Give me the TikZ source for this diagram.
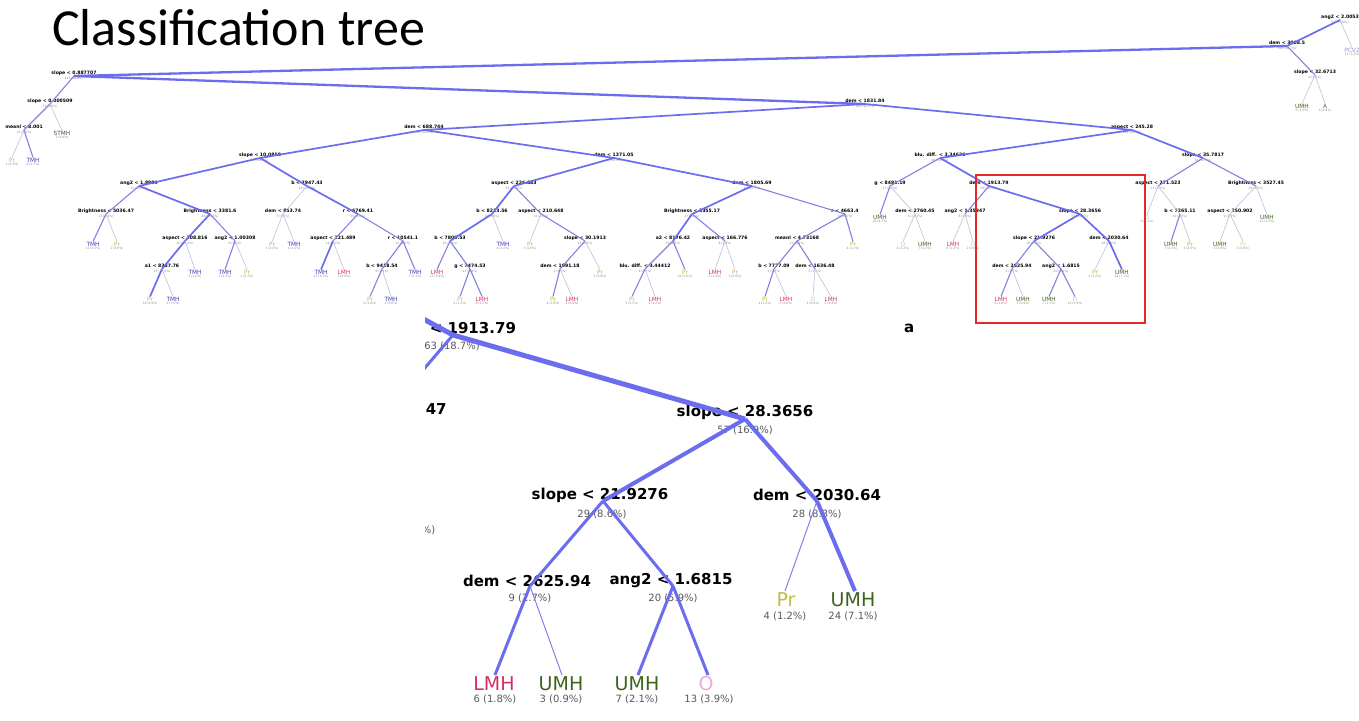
\documentclass[tikz,border=0pt]{standalone}
\usepackage{fontspec}
\newfontfamily\titlefont{Carlito}
\newfontfamily\tf{DejaVu Sans}
\definecolor{thk}{RGB}{108,108,238}
\definecolor{mid}{RGB}{132,130,224}
\definecolor{thn}{RGB}{192,190,220}
\definecolor{cTMH}{RGB}{58,58,185}
\definecolor{cLMH}{RGB}{215,45,100}
\definecolor{cUMH}{RGB}{62,100,28}
\definecolor{cPr}{RGB}{192,190,70}
\definecolor{cO}{RGB}{236,172,216}
\definecolor{cCy}{RGB}{140,210,220}
\definecolor{cPC}{RGB}{165,135,215}
\definecolor{cA}{RGB}{80,105,70}
\definecolor{redbox}{RGB}{232,40,40}
\tikzset{
 slab/.style={font=\tf\bfseries\fontsize{4.6}{5}\selectfont, inner sep=0pt},
 scnt/.style={font=\tf\fontsize{3}{3.5}\selectfont, text=black!45, inner sep=0pt},
 sleaf/.style={font=\tf\fontsize{5.8}{6}\selectfont, inner sep=0pt},
 eL/.style={draw=thk, line width=2.3pt},
 e1/.style={draw=thk, line width=1.7pt},
 e2/.style={draw=mid, line width=1.1pt},
 e3/.style={draw=thn, line width=0.6pt},
 blab/.style={font=\tf\bfseries\fontsize{15}{16}\selectfont, inner sep=0pt},
 bcnt/.style={font=\tf\fontsize{10}{11}\selectfont, text=black!65, inner sep=0pt},
 bleaf/.style={font=\tf\fontsize{19}{20}\selectfont, inner sep=0pt},
 be1/.style={draw=thk, line width=5pt},
 be2/.style={draw=thk, line width=4pt},
 be3/.style={draw=thk, line width=3pt},
 bthin/.style={draw=mid, line width=1pt},
}
\newcommand\SN[5]{\node[slab] (#1-t) at (#2,#3) {#4};
  \node[scnt] (#1-c) at (#2,#3+5.5) {#5};
  \coordinate (#1) at (#2,#3+3);}
\newcommand\SL[6]{\node[sleaf,text=#5] (#1-t) at (#2,#3) {#4};
  \node[scnt] (#1-c) at (#2,#3+5) {#6};
  \coordinate (#1) at (#2,#3-2.5);}
\begin{document}
\begin{tikzpicture}[x=1pt,y=-1pt]
\useasboundingbox (0,0) rectangle (1359,720);
\fill[white] (0,0) rectangle (1359,720);
\node[font=\titlefont\fontsize{52}{56}\selectfont, anchor=base west, inner sep=0pt] (title) at (52,45) {Classification tree};

% ---------- small tree ----------
\SN{R}{1340}{17}{ang2 < 2.0053}{337 (100\%)}
\SL{PC}{1352}{50}{PCV2}{cPC}{11 (3.3\%)}
\SN{D3}{1287}{43}{dem < 3068.5}{326 (96.7\%)}
\SN{S32}{1315}{72}{slope < 32.6713}{8 (2.4\%)}
\SL{S32a}{1302}{106}{UMH}{cUMH}{5 (1.5\%)}
\SL{S32b}{1325}{106}{A}{cA}{3 (0.9\%)}
\SN{S0887}{74}{73}{slope < 0.887707}{318 (94.4\%)}
\SN{S0005}{50}{101}{slope < 0.000509}{12 (3.6\%)}
\SN{M8}{24}{127}{meanl < 8.001}{10 (3.0\%)}
\SL{M8a}{12}{160}{Pr}{cPr}{1 (0.3\%)}
\SL{M8b}{33}{160}{TMH}{cTMH}{9 (2.7\%)}
\SL{ST}{62}{133}{STMH}{black!70}{2 (0.6\%)}
\SN{D1831}{865}{101}{dem < 1831.84}{306 (90.8\%)}
\SN{D688}{424}{127}{dem < 688.744}{182 (54.0\%)}
\SN{A245}{1132}{127}{aspect < 245.28}{124 (36.8\%)}
\SN{S10}{260}{155}{slope < 10.0858}{95 (28.2\%)}
\SN{D1371}{614}{155}{dem < 1371.05}{87 (25.8\%)}
\SN{A1889}{139}{183}{ang2 < 1.8889}{61 (18.1\%)}
\SN{B7947}{307}{183}{b < 7947.43}{34 (10.1\%)}
\SN{Br5036}{106}{211}{Brightness < 5036.47}{13 (3.9\%)}
\SL{Br5036a}{93}{244}{TMH}{cTMH}{11 (3.3\%)}
\SL{Br5036b}{117}{244}{Pr}{cPr}{2 (0.6\%)}
\SN{Br3381}{210}{211}{Brightness < 3381.6}{48 (14.2\%)}
\SN{As208}{185}{238}{aspect < 208.816}{40 (11.9\%)}
\SN{An1003}{235}{238}{ang2 < 1.00308}{8 (2.4\%)}
\SN{A1}{162}{266}{a1 < 8387.76}{35 (10.4\%)}
\SL{A1a}{150}{299}{Pr}{cPr}{30 (8.9\%)}
\SL{A1b}{173}{299}{TMH}{cTMH}{5 (1.5\%)}
\SL{As208b}{195}{272}{TMH}{cTMH}{5 (1.5\%)}
\SL{An1003a}{225}{272}{TMH}{cTMH}{7 (2.1\%)}
\SL{An1003b}{247}{272}{Pr}{cPr}{1 (0.3\%)}
\SN{D853}{283}{211}{dem < 853.74}{5 (1.5\%)}
\SL{D853a}{272}{244}{Pr}{cPr}{1 (0.3\%)}
\SL{D853b}{294}{244}{TMH}{cTMH}{4 (1.2\%)}
\SN{R6769}{358}{211}{r < 6769.41}{29 (8.6\%)}
\SN{As221}{333}{238}{aspect < 221.489}{14 (4.2\%)}
\SL{As221a}{321}{272}{TMH}{cTMH}{11 (3.3\%)}
\SL{As221b}{344}{272}{LMH}{cLMH}{3 (0.9\%)}
\SN{R10541}{403}{238}{r < 10541.1}{15 (4.5\%)}
\SN{B9418}{382}{266}{b < 9418.54}{8 (2.4\%)}
\SL{B9418a}{370}{299}{Pr}{cPr}{6 (1.8\%)}
\SL{B9418b}{391}{299}{TMH}{cTMH}{2 (0.6\%)}
\SL{R10541b}{415}{272}{TMH}{cTMH}{7 (2.1\%)}
\SN{As226}{514}{183}{aspect < 226.883}{45 (13.4\%)}
\SN{B8213}{492}{211}{b < 8213.56}{30 (8.9\%)}
\SN{B7800}{450}{238}{b < 7800.53}{26 (7.7\%)}
\SL{B7800a}{437}{272}{LMH}{cLMH}{13 (3.9\%)}
\SN{G7474}{470}{266}{g < 7474.53}{13 (3.9\%)}
\SL{G7474a}{460}{299}{Pr}{cPr}{4 (1.2\%)}
\SL{G7474b}{482}{299}{LMH}{cLMH}{9 (2.7\%)}
\SL{B8213b}{503}{244}{TMH}{cTMH}{4 (1.2\%)}
\SN{As210}{541}{211}{aspect < 210.648}{15 (4.5\%)}
\SL{As210a}{530}{244}{Pr}{cPr}{3 (0.9\%)}
\SN{S30}{585}{238}{slope < 30.1913}{12 (3.6\%)}
\SN{D1091}{560}{266}{dem < 1091.18}{9 (2.7\%)}
\SL{D1091a}{553}{299}{Pr}{cPr}{6 (1.8\%)}
\SL{D1091b}{572}{299}{LMH}{cLMH}{3 (0.9\%)}
\SL{S30b}{600}{272}{Pr}{cPr}{3 (0.9\%)}
\SN{D1805}{752}{183}{dem < 1805.69}{42 (12.5\%)}
\SN{Br3355}{692}{211}{Brightness < 3355.17}{27 (8.0\%)}
\SN{A2}{673}{238}{a2 < 8176.42}{19 (5.6\%)}
\SN{Blu344}{645}{266}{blu. diff. < 3.44412}{9 (2.7\%)}
\SL{Blu344a}{632}{299}{Pr}{cPr}{5 (1.5\%)}
\SL{Blu344b}{655}{299}{LMH}{cLMH}{4 (1.2\%)}
\SL{A2b}{685}{272}{Pr}{cPr}{10 (3.0\%)}
\SN{As166}{725}{238}{aspect < 166.776}{8 (2.4\%)}
\SL{As166a}{715}{272}{LMH}{cLMH}{5 (1.5\%)}
\SL{As166b}{735}{272}{Pr}{cPr}{3 (0.9\%)}
\SN{R4663}{845}{211}{r < 4663.4}{15 (4.5\%)}
\SN{M473}{797}{238}{meanl < 4.73168}{11 (3.3\%)}
\SN{B7777}{774}{266}{b < 7777.09}{6 (1.8\%)}
\SL{B7777a}{765}{299}{Pr}{cPr}{4 (1.2\%)}
\SL{B7777b}{786}{299}{LMH}{cLMH}{2 (0.6\%)}
\SN{D1636}{815}{266}{dem < 1636.48}{5 (1.5\%)}
\SL{D1636a}{813}{299}{O}{cO}{2 (0.6\%)}
\SL{D1636b}{831}{299}{LMH}{cLMH}{3 (0.9\%)}
\SL{R4663b}{853}{244}{Pr}{cPr}{4 (1.2\%)}
\SN{Blu346}{940}{155}{blu. diff. < 3.34626}{90 (26.7\%)}
\SN{G8481}{890}{183}{g < 8481.19}{27 (8.0\%)}
\SL{G8481a}{880}{217}{UMH}{cUMH}{16 (4.7\%)}
\SN{D2760}{915}{211}{dem < 2760.45}{11 (3.3\%)}
\SL{D2760a}{903}{244}{O}{cO}{4 (1.2\%)}
\SL{D2760b}{925}{244}{UMH}{cUMH}{7 (2.1\%)}
\SN{D1913}{989}{183}{dem < 1913.79}{63 (18.7\%)}
\SN{An135}{965}{211}{ang2 < 1.35947}{6 (1.8\%)}
\SL{An135a}{953}{244}{LMH}{cLMH}{4 (1.2\%)}
\SL{An135b}{973}{244}{O}{cO}{2 (0.6\%)}
\SN{S28}{1080}{211}{slope < 28.3656}{57 (16.9\%)}
\SN{S21}{1034}{238}{slope < 21.9276}{29 (8.6\%)}
\SN{D2625}{1012}{266}{dem < 2625.94}{9 (2.7\%)}
\SL{D2625a}{1001}{299}{LMH}{cLMH}{6 (1.8\%)}
\SL{D2625b}{1023}{299}{UMH}{cUMH}{3 (0.9\%)}
\SN{An16}{1061}{266}{ang2 < 1.6815}{20 (5.9\%)}
\SL{An16a}{1049}{299}{UMH}{cUMH}{7 (2.1\%)}
\SL{An16b}{1075}{299}{O}{cO}{13 (3.9\%)}
\SN{D2030}{1109}{238}{dem < 2030.64}{28 (8.3\%)}
\SL{D2030a}{1095}{272}{Pr}{cPr}{4 (1.2\%)}
\SL{D2030b}{1122}{272}{UMH}{cUMH}{24 (7.1\%)}
\SN{S35}{1203}{155}{slope < 35.7817}{34 (10.1\%)}
\SN{As271}{1158}{183}{aspect < 271.523}{14 (4.2\%)}
\SL{As271a}{1147}{217}{O}{cCy}{4 (1.2\%)}
\SN{B7265}{1180}{211}{b < 7265.11}{10 (3.0\%)}
\SL{B7265a}{1171}{244}{UMH}{cUMH}{7 (2.1\%)}
\SL{B7265b}{1190}{244}{Pr}{cPr}{3 (0.9\%)}
\SN{Br3527}{1256}{183}{Brightness < 3527.45}{20 (5.9\%)}
\SN{As250}{1230}{211}{aspect < 250.902}{9 (2.7\%)}
\SL{As250a}{1220}{244}{UMH}{cUMH}{6 (1.8\%)}
\SL{As250b}{1243}{244}{Pr}{cPr!60}{3 (0.9\%)}
\SL{Br3527b}{1267}{217}{UMH}{cUMH}{11 (3.3\%)}

\draw[e3] (R) -- (PC);
\draw[e1] (R) -- (D3);
\draw[eL] (D3) -- (S0887);
\draw[e2] (D3) -- (S32);
\draw[e3] (S32) -- (S32a); \draw[e3] (S32) -- (S32b);
\draw[eL] (S0887) -- (D1831);
\draw[e2] (S0887) -- (S0005);
\draw[e2] (S0005) -- (M8); \draw[e3] (S0005) -- (ST);
\draw[e3] (M8) -- (M8a); \draw[e2] (M8) -- (M8b);
\draw[e1] (D1831) -- (D688); \draw[e1] (D1831) -- (A245);
\draw[e1] (D688) -- (S10); \draw[e1] (D688) -- (D1371);
\draw[e1] (S10) -- (A1889); \draw[e1] (S10) -- (B7947);
\draw[e2] (A1889) -- (Br5036); \draw[e1] (A1889) -- (Br3381);
\draw[e2] (Br5036) -- (Br5036a); \draw[e3] (Br5036) -- (Br5036b);
\draw[e1] (Br3381) -- (As208); \draw[e2] (Br3381) -- (An1003);
\draw[e1] (As208) -- (A1); \draw[e3] (As208) -- (As208b);
\draw[e1] (A1) -- (A1a); \draw[e3] (A1) -- (A1b);
\draw[e2] (An1003) -- (An1003a); \draw[e3] (An1003) -- (An1003b);
\draw[e3] (B7947) -- (D853); \draw[e1] (B7947) -- (R6769);
\draw[e3] (D853) -- (D853a); \draw[e3] (D853) -- (D853b);
\draw[e2] (R6769) -- (As221); \draw[e2] (R6769) -- (R10541);
\draw[e1] (As221) -- (As221a); \draw[e3] (As221) -- (As221b);
\draw[e2] (R10541) -- (B9418); \draw[e2] (R10541) -- (R10541b);
\draw[e2] (B9418) -- (B9418a); \draw[e3] (B9418) -- (B9418b);
\draw[e1] (D1371) -- (As226); \draw[e1] (D1371) -- (D1805);
\draw[e1] (As226) -- (B8213); \draw[e2] (As226) -- (As210);
\draw[e1] (B8213) -- (B7800); \draw[e3] (B8213) -- (B8213b);
\draw[e2] (B7800) -- (B7800a); \draw[e2] (B7800) -- (G7474);
\draw[e2] (G7474) -- (G7474a); \draw[e2] (G7474) -- (G7474b);
\draw[e3] (As210) -- (As210a); \draw[e2] (As210) -- (S30);
\draw[e2] (S30) -- (D1091); \draw[e3] (S30) -- (S30b);
\draw[e2] (D1091) -- (D1091a); \draw[e3] (D1091) -- (D1091b);
\draw[e1] (D1805) -- (Br3355); \draw[e2] (D1805) -- (R4663);
\draw[e1] (Br3355) -- (A2); \draw[e2] (Br3355) -- (As166);
\draw[e2] (A2) -- (Blu344); \draw[e2] (A2) -- (A2b);
\draw[e2] (Blu344) -- (Blu344a); \draw[e3] (Blu344) -- (Blu344b);
\draw[e3] (As166) -- (As166a); \draw[e3] (As166) -- (As166b);
\draw[e2] (R4663) -- (M473); \draw[e2] (R4663) -- (R4663b);
\draw[e2] (M473) -- (B7777); \draw[e2] (M473) -- (D1636);
\draw[e2] (B7777) -- (B7777a); \draw[e3] (B7777) -- (B7777b);
\draw[e3] (D1636) -- (D1636a); \draw[e3] (D1636) -- (D1636b);
\draw[e1] (A245) -- (Blu346); \draw[e1] (A245) -- (S35);
\draw[e2] (Blu346) -- (G8481); \draw[e1] (Blu346) -- (D1913);
\draw[e2] (G8481) -- (G8481a); \draw[e3] (G8481) -- (D2760);
\draw[e3] (D2760) -- (D2760a); \draw[e3] (D2760) -- (D2760b);
\draw[e2] (D1913) -- (An135); \draw[e1] (D1913) -- (S28);
\draw[e3] (An135) -- (An135a); \draw[e3] (An135) -- (An135b);
\draw[e1] (S28) -- (S21); \draw[e1] (S28) -- (D2030);
\draw[e2] (S21) -- (D2625); \draw[e2] (S21) -- (An16);
\draw[e2] (D2625) -- (D2625a); \draw[e3] (D2625) -- (D2625b);
\draw[e2] (An16) -- (An16a); \draw[e2] (An16) -- (An16b);
\draw[e3] (D2030) -- (D2030a); \draw[e1] (D2030) -- (D2030b);
\draw[e2] (S35) -- (As271); \draw[e2] (S35) -- (Br3527);
\draw[e3] (As271) -- (As271a); \draw[e3] (As271) -- (B7265);
\draw[e2] (B7265) -- (B7265a); \draw[e3] (B7265) -- (B7265b);
\draw[e3] (Br3527) -- (As250); \draw[e3] (Br3527) -- (Br3527b);
\draw[e3] (As250) -- (As250a); \draw[e3] (As250) -- (As250b);

% red box
\draw[redbox, line width=1.2pt] (976,175) rectangle (1145,323);

% ---------- enlarged part ----------
\begin{scope}
\clip (425,315) rectangle (912,712);
\coordinate (Bblu) at (303,254);
\node[blab] (Bd1913-t) at (452,328) {dem < 1913.79};
\node[bcnt] (Bd1913-c) at (452,346) {63 (18.7\%)};
\coordinate (Bd1913) at (453,335);
\node[blab] (Ban-t) at (380,411) {ang2 < 1.35947};
\coordinate (Ban) at (382,418);
\node[bcnt] (BanO-c) at (414,530) {2 (0.6\%)};
\node[blab,anchor=west] (Bas-t) at (904,328) {aspect < 271.523};
\node[blab] (Bs28-t) at (745,412) {slope < 28.3656};
\node[bcnt] (Bs28-c) at (745,430) {57 (16.9\%)};
\coordinate (Bs28) at (745,419);
\node[blab] (Bs21-t) at (600,495) {slope < 21.9276};
\node[bcnt] (Bs21-c) at (602,514) {29 (8.6\%)};
\coordinate (Bs21) at (603,501);
\node[blab] (Bd2030-t) at (817,495) {dem < 2030.64};
\node[bcnt] (Bd2030-c) at (817,514) {28 (8.3\%)};
\coordinate (Bd2030) at (817,501);
\node[blab] (Bd2625-t) at (527,581) {dem < 2625.94};
\node[bcnt] (Bd2625-c) at (530,598) {9 (2.7\%)};
\coordinate (Bd2625) at (530,586);
\node[blab] (Ban16-t) at (671,581) {ang2 < 1.6815};
\node[bcnt] (Ban16-c) at (673,598) {20 (5.9\%)};
\coordinate (Ban16) at (673,586);
\node[bleaf,text=cPr] (BPr-t) at (786,600) {Pr};
\node[bcnt] (BPr-c) at (785,616) {4 (1.2\%)};
\coordinate (BPr) at (785,591);
\node[bleaf,text=cUMH] (BU24-t) at (853,600) {UMH};
\node[bcnt] (BU24-c) at (853,616) {24 (7.1\%)};
\coordinate (BU24) at (855,591);
\node[bleaf,text=cLMH] (BL1-t) at (494,684) {LMH};
\node[bcnt] (BL1-c) at (495,699) {6 (1.8\%)};
\coordinate (BL1) at (495,675);
\node[bleaf,text=cUMH] (BL2-t) at (561,684) {UMH};
\node[bcnt] (BL2-c) at (561,699) {3 (0.9\%)};
\coordinate (BL2) at (562,675);
\node[bleaf,text=cUMH] (BL3-t) at (637,684) {UMH};
\node[bcnt] (BL3-c) at (637,699) {7 (2.1\%)};
\coordinate (BL3) at (638,675);
\node[bleaf,text=cO] (BL4-t) at (706,684) {O};
\node[bcnt] (BL4-c) at (709,699) {13 (3.9\%)};
\coordinate (BL4) at (708,675);
\draw[be1] (Bblu) -- (Bd1913);
\draw[be3] (Bd1913) -- (Ban);
\draw[be1] (Bd1913) -- (Bs28);
\draw[be2] (Bs28) -- (Bs21);
\draw[be2] (Bs28) -- (Bd2030);
\draw[be3] (Bs21) -- (Bd2625);
\draw[be3] (Bs21) -- (Ban16);
\draw[be3] (Bd2625) -- (BL1);
\draw[bthin] (Bd2625) -- (BL2);
\draw[be3] (Ban16) -- (BL3);
\draw[be3] (Ban16) -- (BL4);
\draw[bthin] (Bd2030) -- (BPr);
\draw[be2] (Bd2030) -- (BU24);
\end{scope}
\end{tikzpicture}
\end{document}
